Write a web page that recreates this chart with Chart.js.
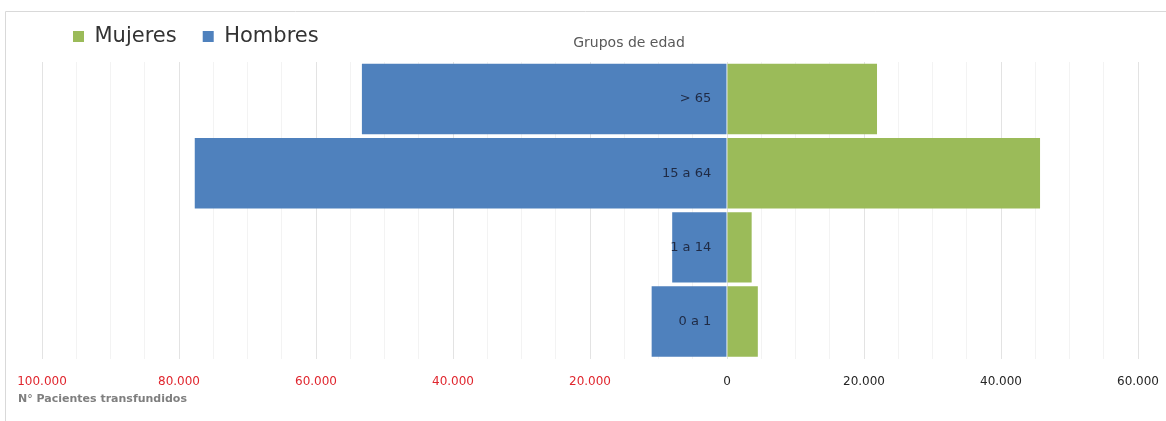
<!DOCTYPE html>
<html>
<head>
<meta charset="utf-8">
<script src="https://cdn.jsdelivr.net/npm/chart.js@4.4.1/dist/chart.umd.min.js"></script>
<style>
  html, body { margin: 0; padding: 0; background: #fff; }
  #wrap { width: 1166px; height: 421px; position: relative; }
</style>
</head>
<body>
<div id="wrap"><canvas id="pyramid"></canvas></div>
<script>
// grupos de edad, de arriba abajo
const ageGroups = ['> 65', '15 a 64', '1 a 14', '0 a 1'];
// pacientes transfundidos (hombres en negativo para el lado izquierdo)
const hombres = [-53300, -77700, -8000, -11000];
const mujeres = [21900, 45700, 3600, 4500];
const xMin = -100000;
const xMax = 60000;

const FONT = 'DejaVu Sans';

function fmt(v) {
    return Math.abs(v).toLocaleString('de-DE');
}

// marco gris, textos sueltos y leyenda desplazada
const extraText = {
    id: 'extraText',
    beforeLayout(chart) {
        // un poco mas de aire debajo de la leyenda
        const lg = chart.legend;
        if (lg && !lg._extraGap) {
            const fit = lg.fit.bind(lg);
            lg.fit = function() { fit(); this.height += 5; };
            lg._extraGap = true;
        }
    },
    afterLayout(chart) {
        // la leyenda original empieza mas a la derecha
        chart.legend.left = 47;
    },
    beforeDraw(chart) {
        const c = chart.ctx;
        c.save();
        c.strokeStyle = '#d9d9d9';
        c.lineWidth = 1;
        c.beginPath();
        c.moveTo(5.5, 421);
        c.lineTo(5.5, 11.5);
        c.lineTo(1166, 11.5);
        c.stroke();
        c.restore();
    },
    afterDraw(chart) {
        const c = chart.ctx;
        c.save();
        c.font = '14px ' + FONT;
        c.fillStyle = '#595959';
        c.textAlign = 'center';
        c.textBaseline = 'middle';
        c.fillText('Grupos de edad', 629, 43);
        c.font = 'bold 11px ' + FONT;
        c.fillStyle = '#7f7f7f';
        c.textAlign = 'left';
        c.fillText('N\u00b0 Pacientes transfundidos', 18, 399);
        c.restore();
    }
};

document.addEventListener('DOMContentLoaded', function() {
    const ctx = document.getElementById('pyramid');

    const chart = new Chart(ctx, {
        type: 'bar',
        data: {
            labels: ageGroups,
            datasets: [{
                label: 'Mujeres',
                data: mujeres,
                backgroundColor: '#9bbb59',
                barPercentage: 0.95,
                categoryPercentage: 1.0
            }, {
                label: 'Hombres',
                data: hombres,
                backgroundColor: '#4f81bd',
                barPercentage: 0.95,
                categoryPercentage: 1.0
            }]
        },
        options: {
            indexAxis: 'y',
            responsive: true,
            maintainAspectRatio: false,
            animation: false,
            layout: {
                padding: { top: 0, left: 0, right: 0, bottom: 16 }
            },
            plugins: {
                legend: {
                    position: 'top',
                    align: 'start',
                    labels: {
                        boxWidth: 11,
                        boxHeight: 11,
                        padding: 26,
                        color: '#333333',
                        font: { family: FONT, size: 21 }
                    }
                },
                tooltip: { enabled: false }
            },
            scales: {
                x: {
                    stacked: true,
                    min: xMin,
                    max: xMax,
                    afterFit(scale) {
                        // margenes laterales del area de dibujo como en el original
                        scale.paddingLeft = 42;
                        scale.paddingRight = 28;
                    },
                    grid: {
                        color: ctx => (ctx.tick && ctx.tick.value % 20000 === 0) ? '#e3e3e3' : '#f3f3f3',
                        drawTicks: false
                    },
                    border: { display: false },
                    ticks: {
                        stepSize: 5000,
                        autoSkip: false,
                        maxRotation: 0,
                        padding: 16,
                        font: { family: FONT, size: 12 },
                        color: ctx => ctx.tick.value < 0 ? '#e0262e' : '#262626',
                        callback: v => v % 20000 === 0 ? fmt(v) : ''
                    }
                },
                y: {
                    stacked: true,
                    // etiquetas de grupo dentro de la barra azul, junto al 0
                    position: { x: -2300 },
                    grid: { display: false },
                    border: { display: false },
                    ticks: {
                        z: 1,
                        font: { family: FONT, size: 13 },
                        color: '#1f2a44'
                    }
                }
            }
        },
        plugins: [extraText]
    });
    window.pyramid = chart;
});
</script>
</body>
</html>
